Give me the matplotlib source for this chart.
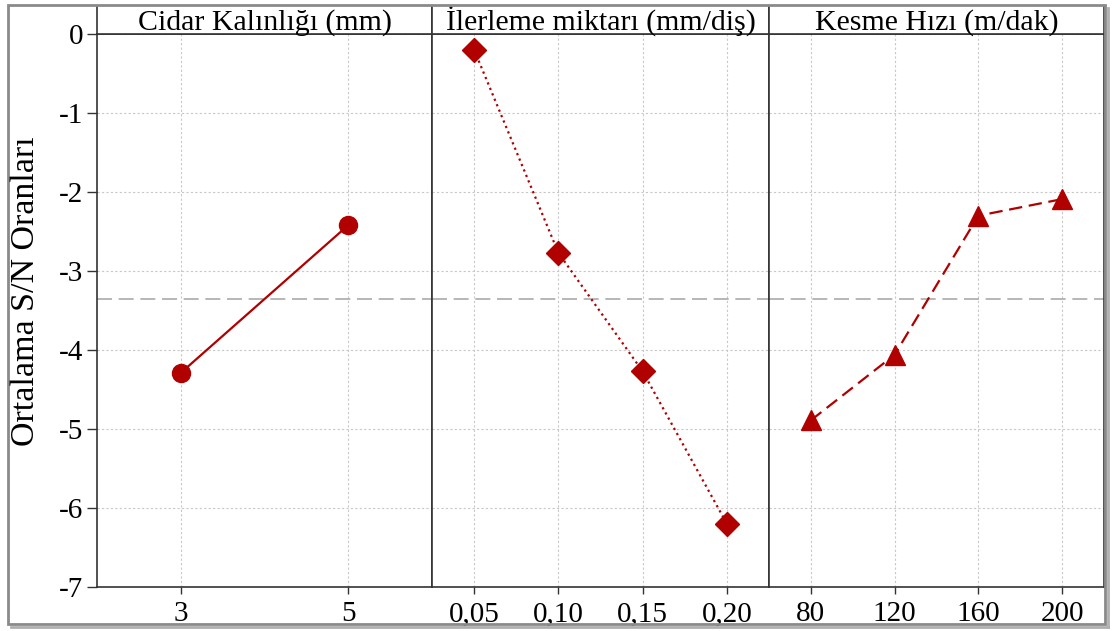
import matplotlib.pyplot as plt
from matplotlib.patches import Rectangle
from matplotlib.lines import Line2D

plt.rcParams['font.family'] = ['Liberation Serif', 'DejaVu Serif']

# --- data ---
titles = ['Cidar Kalınlığı (mm)', 'İlerleme miktarı (mm/diş)', 'Kesme Hızı (m/dak)']
cidar_labels = ['3', '5']
cidar_sn = [-4.29, -2.42]
ilerleme_labels = ['0,05', '0,10', '0,15', '0,20']
ilerleme_sn = [-0.20, -2.77, -4.27, -6.20]
hiz_labels = ['80', '120', '160', '200']
hiz_sn = [-4.89, -4.06, -2.30, -2.09]

ylabel = 'Ortalama S/N Oranları'
yticks = [0, -1, -2, -3, -4, -5, -6, -7]

panels = [
    (cidar_labels, cidar_sn, '-', 'o', 13),
    (ilerleme_labels, ilerleme_sn, ':', 'D', 12),
    (hiz_labels, hiz_sn, (0, (6, 3)), '^', 14),
]

grand_mean = sum(cidar_sn) / len(cidar_sn)

red = '#B00000'
spine_col = '#333333'

W, H = 1115, 631
fig = plt.figure(figsize=(W / 100, H / 100), dpi=100)

edges_px = [97, 432, 769, 1104]
top_px, bot_px, head_px = 34, 587, 6

for i, (labels, vals, ls, mk, ms) in enumerate(panels):
    x0 = edges_px[i] / W
    w = (edges_px[i + 1] - edges_px[i]) / W
    ax = fig.add_axes([x0, 1 - bot_px / H, w, (bot_px - top_px) / H])
    pos = list(range(len(labels)))
    ax.set_xlim(-0.5, len(labels) - 0.5)
    ax.set_ylim(-7, 0)
    ax.axhline(grand_mean, color='#aaaaaa', lw=1.2, ls=(0, (9, 4)), zorder=1)
    ax.plot(pos, vals, color=red, ls=ls, lw=1.6, marker=mk, ms=ms, zorder=3)
    ax.set_xticks(pos)
    ax.set_xticklabels(labels, fontsize=21)
    ax.set_yticks(yticks)
    ax.grid(True, color='#c8c8c8', ls=(0, (2, 2)), lw=0.8)
    ax.set_axisbelow(True)
    ax.tick_params(axis='x', direction='out', length=5, width=1, color=spine_col, pad=5)
    if i == 0:
        ax.set_yticklabels([str(t) for t in yticks], fontsize=21)
        ax.tick_params(axis='y', direction='out', length=7, width=1, color=spine_col, pad=3)
    else:
        ax.tick_params(axis='y', left=False, labelleft=False)
    for s in ax.spines.values():
        s.set_color(spine_col)
        s.set_linewidth(1.2)

    # header strip
    hx = fig.add_axes([x0, 1 - top_px / H, w, (top_px - head_px) / H])
    hx.set_xlim(0, 1)
    hx.set_ylim(0, 1)
    hx.set_xticks([])
    hx.set_yticks([])
    hx.spines['top'].set_visible(False)
    for s in ['left', 'right', 'bottom']:
        hx.spines[s].set_color(spine_col)
        hx.spines[s].set_linewidth(1.2)
    hx.text(0.5, 0.16, titles[i], ha='center', va='baseline', fontsize=21.5)

# y label centred on the whole panel height (header included)
fig.text(26 / W, 1 - 291 / H, ylabel, rotation=90, ha='center', va='center',
         fontsize=24.5)

# grey frame with a little shadow on the right and bottom
fig.patches.append(Rectangle((8 / W, 1 - 624 / H), 1097 / W, 619 / H,
                             transform=fig.transFigure, fill=False,
                             edgecolor='#8a8a8a', lw=2.0))
fig.lines.append(Line2D([1108 / W, 1108 / W], [1 - 627 / H, 1 - 8 / H],
                        transform=fig.transFigure, color='#b0b0b0', lw=2))
fig.lines.append(Line2D([11 / W, 1108 / W], [1 - 627 / H, 1 - 627 / H],
                        transform=fig.transFigure, color='#b0b0b0', lw=2))

fig.savefig('out.png', dpi=100)
